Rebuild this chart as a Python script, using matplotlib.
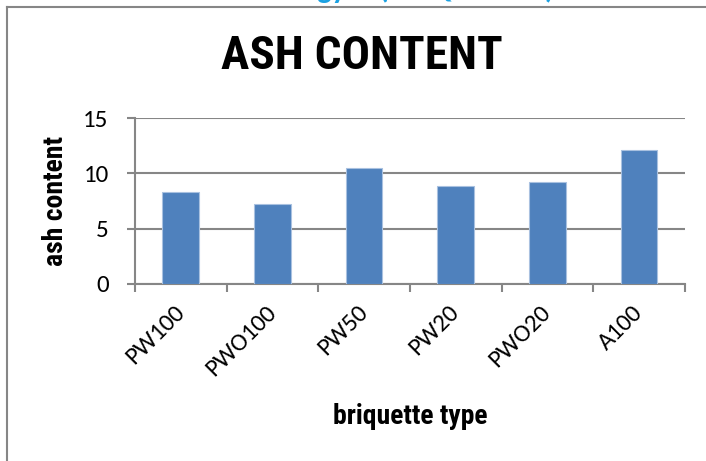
import matplotlib.pyplot as plt
import numpy as np
from matplotlib.lines import Line2D

briquettes = ["PW100", "PWO100", "PW50", "PW20", "PWO20", "A100"]
ash = [8.3, 7.2, 10.5, 8.9, 9.2, 12.1]
yticks = [0, 5, 10, 15]

narrow = ["Roboto Condensed", "Liberation Sans", "DejaVu Sans"]
plain = ["Carlito", "Liberation Sans", "DejaVu Sans"]
grey = "#868686"

fig = plt.figure(figsize=(7.06, 4.61), dpi=100)
ax = fig.add_axes([0.1912, 0.384, 0.779, 0.360])

x = np.arange(len(briquettes))
ax.bar(x, ash, width=0.4, color="#4F81BD", edgecolor="#A9C1E0", linewidth=0.8, zorder=3)

ax.set_xlim(-0.5, len(briquettes) - 0.5)
ax.set_ylim(0, 15)
ax.set_yticks(yticks)
ax.yaxis.grid(True, color=grey, linewidth=1.5, zorder=0)

ax.set_xticks(x)
ax.set_xticklabels(briquettes, rotation=45, ha="right", va="center",
                   rotation_mode="anchor", family=plain, fontsize=18)
ax.set_xticks(np.arange(len(briquettes) + 1) - 0.5, minor=True)
ax.tick_params(axis="x", which="major", length=0, pad=18)
ax.tick_params(axis="x", which="minor", length=6, width=1.5, color=grey, direction="out")
ax.tick_params(axis="y", length=6, width=1.5, color=grey, pad=13, labelsize=18)
for lab in ax.get_yticklabels():
    lab.set_family(plain)

for side in ["top", "right"]:
    ax.spines[side].set_visible(False)
for side in ["left", "bottom"]:
    ax.spines[side].set_color(grey)
    ax.spines[side].set_linewidth(1.5)

ax.set_ylabel("ash content", family=narrow, fontweight="bold", fontsize=20)
ax.yaxis.set_label_coords(-0.12, 0.5)
ax.set_xlabel("briquette type", family=narrow, fontweight="bold", fontsize=20)
ax.xaxis.set_label_coords(0.5, -0.72)

fig.text(0.513, 0.878, "ASH CONTENT", family=narrow, fontweight="bold",
         fontsize=34, ha="center", va="center")

# page heading cut off by the top edge, only its descenders remain
fig.text(0.4915, 1.004, "Technology", color="#1BA1E2", family=plain,
         fontweight="bold", fontsize=22, ha="right", va="baseline")
fig.text(0.5354, 1.004, "(BRIQUETTES)", color="#1BA1E2", family=plain,
         fontweight="bold", fontsize=22, ha="left", va="baseline")

fig.add_artist(Line2D([7 / 706, 1], [1 - 7 / 461, 1 - 7 / 461], color=grey, linewidth=1.5,
                      transform=fig.transFigure))
fig.add_artist(Line2D([7 / 706, 7 / 706], [0, 1 - 7 / 461], color=grey, linewidth=1.5,
                      transform=fig.transFigure))

fig.savefig("out.png", dpi=100)
